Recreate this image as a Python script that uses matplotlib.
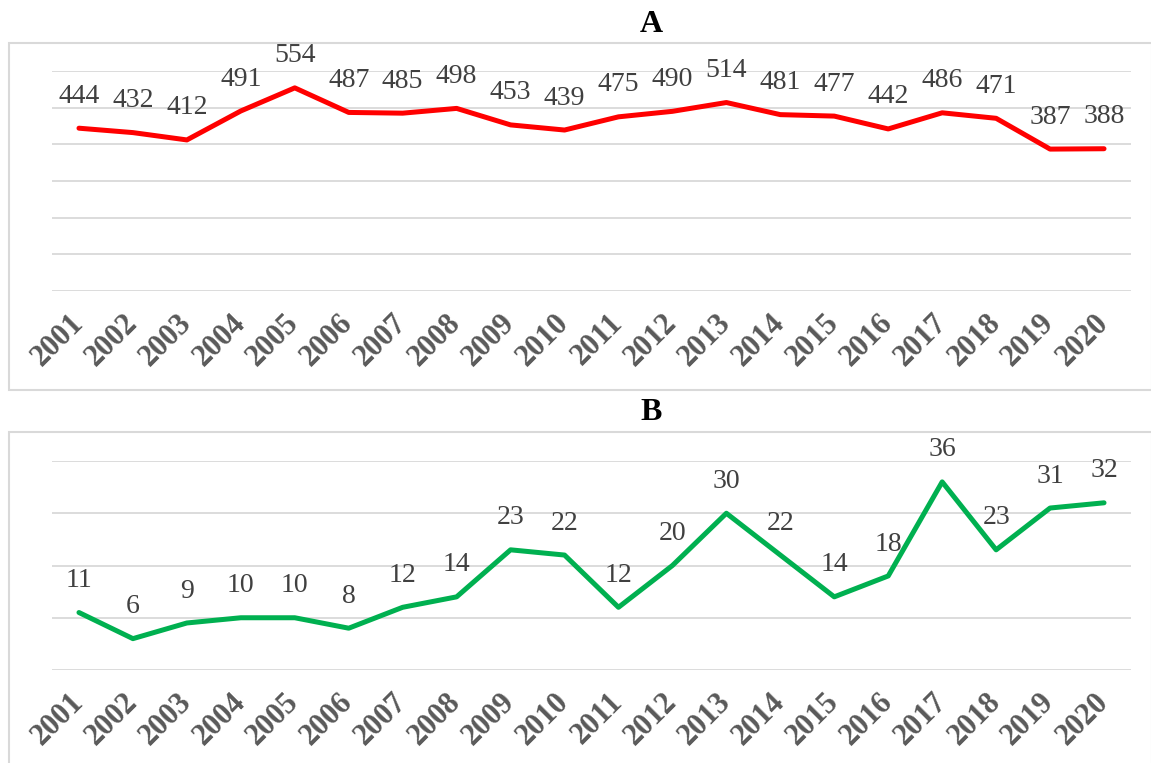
import matplotlib.pyplot as plt
from matplotlib.patches import Rectangle

# ------------- data --------------
years = [str(y) for y in range(2001, 2021)]
values_a = [444, 432, 412, 491, 554, 487, 485, 498, 453, 439,
            475, 490, 514, 481, 477, 442, 486, 471, 387, 388]
values_b = [11, 6, 9, 10, 10, 8, 12, 14, 23, 22,
            12, 20, 30, 22, 14, 18, 36, 23, 31, 32]

plt.rcParams['font.family'] = ['Liberation Serif', 'DejaVu Serif']

W, H = 1151, 763
fig = plt.figure(figsize=(W / 100, H / 100), dpi=100, facecolor='white')


def px_axes(x0, y0, x1, y1):
    # pixel box (from top-left) -> figure fraction axes
    return fig.add_axes([x0 / W, (H - y1) / H, (x1 - x0) / W, (y1 - y0) / H])


def panel_border(x0, y0, x1, y1):
    fig.patches.append(Rectangle((x0 / W, (H - y1) / H), (x1 - x0) / W, (y1 - y0) / H,
                                 transform=fig.transFigure, fill=False,
                                 edgecolor='#D9D9D9', lw=1.5))


def draw_panel(ax, vals, color, ymax, step):
    x = list(range(len(vals)))
    ax.plot(x, vals, color=color, lw=3.6, solid_capstyle='round', solid_joinstyle='round', zorder=3)
    for xi, v in zip(x, vals):
        ax.annotate(str(v), (xi, v), xytext=(0, 23), textcoords='offset points',
                    ha='center', va='center', fontsize=20, color='#404040')
    ax.set_xlim(-0.5, len(vals) - 0.5)
    ax.set_ylim(0, ymax)
    ax.set_yticks(range(0, ymax + 1, step))
    ax.yaxis.grid(True, color='#D9D9D9', lw=1.3)
    ax.set_axisbelow(True)
    ax.tick_params(axis='y', length=0, labelleft=False)
    ax.tick_params(axis='x', length=0, pad=20)
    ax.set_xticks(x)
    ax.set_xticklabels(years, rotation=45, ha='right', va='center', rotation_mode='anchor',
                       fontsize=22, fontweight='bold', color='#595959')
    for s in ax.spines.values():
        s.set_visible(False)
    ax.patch.set_alpha(0)


panel_border(9, 43, 1152, 390)
panel_border(9, 432, 1152, 770)

ax_a = px_axes(52, 71, 1131, 291)
draw_panel(ax_a, values_a, '#FF0000', 600, 100)
ax_b = px_axes(52, 461, 1131, 670)
draw_panel(ax_b, values_b, '#00B050', 40, 10)

fig.text(651 / W, 1 - 24 / H, 'A', ha='center', va='center', fontsize=23, fontweight='bold', color='black')
fig.text(651 / W, 1 - 413 / H, 'B', ha='center', va='center', fontsize=23, fontweight='bold', color='black')

fig.savefig('out.png', dpi=100, facecolor='white')
